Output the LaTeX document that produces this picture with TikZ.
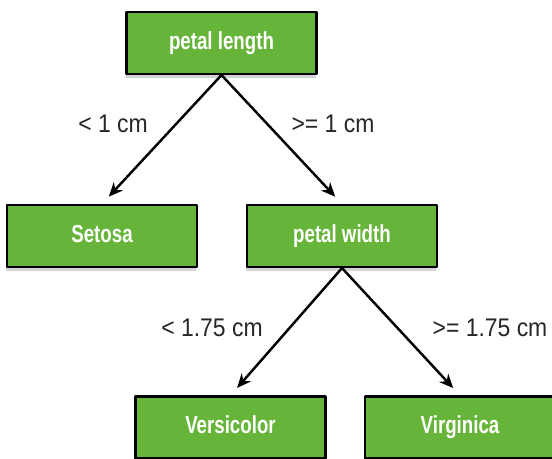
\documentclass[tikz,border=0pt]{standalone}
\usepackage{fontspec}
\setmainfont{Liberation Sans}
\newfontfamily\leaffont[FakeStretch=0.76]{Liberation Sans}
\newfontfamily\edgefont[FakeStretch=0.9]{Liberation Sans}
\usetikzlibrary{shadows, arrows.meta}

\definecolor{leafgreen}{RGB}{102,181,58}

\tikzset{
  split/.style={draw=black, line width=1.2pt, fill=leafgreen,
    minimum width=3.8cm, minimum height=1.24cm, inner sep=0pt,
    text height=0.95em, text depth=0.25em,
    font=\leaffont\fontsize{14}{16}\selectfont\bfseries, text=white,
    drop shadow={shadow xshift=-0.4pt, shadow yshift=-2pt, opacity=0.35}},
  branch/.style={->, line width=1.4pt, shorten >=0.2cm},
  cond/.style={font=\edgefont\fontsize{14.5}{16}\selectfont, text=black!85}
}

\begin{document}
\begin{tikzpicture}[>={Stealth[length=8pt, width=7pt]}, x=0.02cm, y=-0.02cm, line cap=round, line join=round]
  \useasboundingbox (0, 0) rectangle (552, 459);

  % Tree nodes
  \node[split] (plength) at (221.5, 43) {petal length};
  \node[split] (setosa) at (102, 236) {Setosa};
  \node[split] (pwidth) at (342, 236) {petal width};
  \node[split] (versicolor) at (230.5, 427.5) {Versicolor};
  \node[split] (virginica) at (460, 427.5) {Virginica};

  % Branches
  \draw[branch] (plength.south) -- (setosa.north);
  \draw[branch] (plength.south) -- (pwidth.north);
  \draw[branch] (pwidth.south) -- (versicolor.north);
  \draw[branch] (pwidth.south) -- (virginica.north);

  % Split conditions
  \node[cond] (lt1) at (113, 124) {< 1 cm};
  \node[cond] (ge1) at (333, 124) {>= 1 cm};
  \node[cond] (lt175) at (212, 328) {< 1.75 cm};
  \node[cond] (ge175) at (490, 328) {>= 1.75 cm};
\end{tikzpicture}
\end{document}
